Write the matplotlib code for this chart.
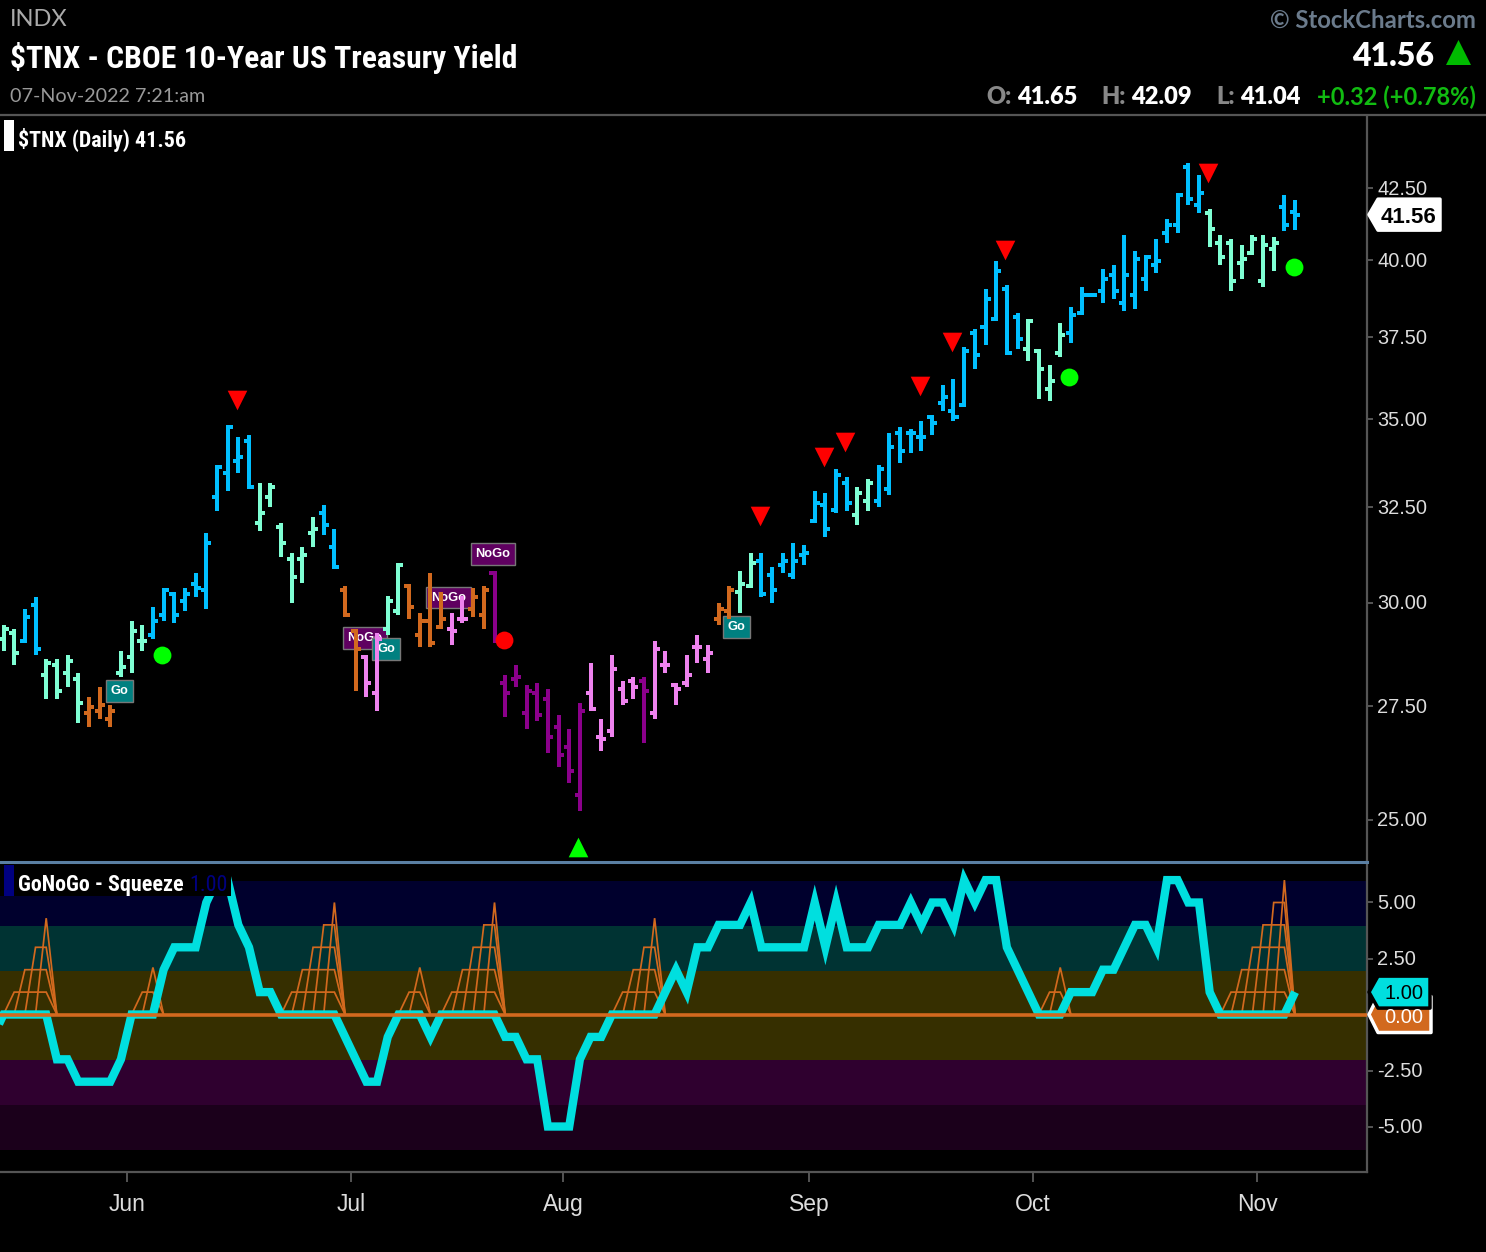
import matplotlib
matplotlib.use('Agg')
import matplotlib.pyplot as plt
import numpy as np
from matplotlib.lines import Line2D
from matplotlib.patches import Polygon, Rectangle
from matplotlib.transforms import Affine2D
from matplotlib import font_manager as fm

W, H = 1486, 1252

# Daily bars of $TNX
opens = [29.10, 29.25, 29.06, 29.94, 28.24, 28.47, 28.28, 28.14, 27.35, 27.40, 27.21, 28.28, 28.66, 29.06, 29.20,
         29.69, 30.23, 30.04, 30.48, 30.33, 32.79, 33.46, 33.79, 34.37, 32.08, 32.79, 31.97, 31.13, 31.13, 31.82,
         32.34, 31.44, 30.33, 29.30, 28.66, 27.82, 29.35, 29.79, 30.43, 29.20, 29.55, 29.40, 29.35, 29.59, 29.84,
         29.69, 30.76, 28.05, 28.14, 27.35, 27.82, 27.67, 27.03, 26.58, 25.53, 27.82, 26.81, 26.94, 27.91, 28.10,
         28.10, 27.35, 28.47, 28.00, 28.05, 28.91, 28.61, 29.59, 29.79, 30.28, 30.43, 31.07, 30.71, 30.97, 30.71,
         31.23, 32.13, 32.57, 32.44, 33.17, 32.29, 32.68, 32.68, 33.01, 34.60, 34.60, 34.49, 35.07, 35.48, 35.24,
         35.42, 37.62, 37.82, 38.07, 39.04, 38.14, 37.13, 37.07, 35.90, 37.01, 37.62, 38.27, 38.85, 38.98, 39.50,
         38.59, 38.85, 39.37, 39.84, 40.93, 41.20, 43.26, 41.90, 41.62, 40.59, 40.59, 39.91, 40.25, 39.31, 40.38,
         41.83, 41.65]
highs = [29.45, 29.35, 29.84, 30.15, 28.61, 28.61, 28.71, 28.28, 27.72, 27.96, 27.54, 28.81, 29.55, 29.45, 29.89,
         30.38, 30.28, 30.38, 30.76, 31.82, 33.68, 34.83, 34.49, 34.55, 33.17, 33.17, 32.08, 31.28, 31.44, 32.24,
         32.57, 31.92, 30.43, 29.35, 28.71, 29.25, 30.18, 31.02, 30.48, 29.74, 30.76, 30.28, 29.74, 30.18, 30.38,
         30.43, 30.81, 28.24, 28.47, 28.00, 28.05, 27.91, 27.30, 26.99, 27.58, 28.52, 27.21, 28.71, 28.10, 28.19,
         28.19, 29.06, 28.81, 28.05, 28.71, 29.20, 28.96, 29.99, 30.43, 30.81, 31.28, 31.28, 30.92, 31.28, 31.55,
         31.49, 32.96, 32.90, 33.57, 33.35, 33.06, 33.29, 33.68, 34.60, 34.78, 34.72, 34.95, 35.13, 36.03, 36.21,
         37.19, 37.75, 39.04, 39.98, 39.17, 38.27, 38.07, 37.13, 36.63, 37.94, 38.46, 39.11, 38.92, 39.71, 39.84,
         40.86, 40.31, 40.18, 40.72, 41.41, 42.33, 43.40, 42.97, 41.76, 40.86, 40.72, 40.52, 40.86, 40.86, 40.79,
         42.26, 42.09]
lows = [28.81, 28.47, 29.01, 28.71, 27.67, 27.67, 27.96, 27.12, 27.03, 27.21, 27.03, 28.19, 28.28, 28.81, 29.10,
        29.55, 29.50, 29.79, 30.15, 29.84, 32.40, 32.96, 33.46, 33.01, 31.87, 32.52, 31.18, 29.99, 30.50, 31.44,
        31.76, 30.87, 29.64, 27.86, 27.72, 27.40, 29.20, 29.69, 29.59, 28.91, 28.91, 29.35, 28.96, 29.50, 29.64,
        29.35, 29.01, 27.26, 27.96, 26.99, 27.17, 26.44, 26.14, 25.79, 25.19, 27.40, 26.49, 26.81, 27.54, 27.67,
        26.67, 27.21, 28.28, 27.54, 27.96, 28.52, 28.28, 29.45, 29.59, 29.74, 30.38, 30.15, 29.99, 30.76, 30.61,
        30.97, 32.08, 31.71, 32.34, 32.40, 32.03, 32.40, 32.52, 32.85, 33.73, 34.02, 34.08, 34.55, 35.24, 34.95,
        35.36, 36.52, 37.25, 38.00, 36.94, 37.13, 36.76, 35.60, 35.54, 36.88, 37.32, 38.20, 38.79, 38.59, 38.72,
        38.33, 38.39, 38.98, 39.57, 40.59, 40.93, 41.90, 41.62, 40.45, 39.84, 38.98, 39.37, 40.18, 39.11, 39.64,
        41.00, 41.04]
closes = [29.35, 28.76, 29.64, 28.86, 28.52, 27.86, 28.57, 27.58, 27.49, 27.54, 27.40, 28.42, 29.30, 29.06, 29.55,
          30.33, 29.69, 30.23, 30.38, 31.55, 33.62, 34.78, 33.91, 33.06, 32.34, 33.06, 31.55, 30.66, 31.23, 31.92,
          32.03, 30.92, 29.69, 28.86, 28.05, 29.10, 30.04, 30.97, 29.89, 29.55, 29.01, 29.59, 29.30, 29.59, 30.15,
          30.33, 29.06, 27.82, 28.19, 27.86, 27.30, 26.81, 26.40, 26.05, 27.40, 27.44, 26.76, 28.38, 27.63, 27.96,
          27.86, 28.86, 28.47, 27.91, 28.24, 28.91, 28.76, 29.84, 30.33, 30.48, 31.02, 30.23, 30.33, 31.07, 31.07,
          31.28, 32.63, 31.92, 33.40, 32.63, 32.90, 33.17, 33.57, 34.20, 34.08, 34.60, 34.49, 34.89, 35.66, 35.07,
          37.07, 36.94, 38.72, 39.64, 37.01, 37.44, 38.00, 36.51, 36.15, 37.57, 38.20, 38.85, 38.85, 39.37, 38.98,
          39.50, 40.04, 40.11, 39.98, 41.20, 42.26, 42.12, 42.33, 41.07, 40.11, 39.31, 40.04, 40.72, 40.52, 40.59,
          41.20, 41.56]

# GoNoGo trend of each bar: b strong go, m weak go, o weak nogo, p nogo, d strong nogo
trend = ('mmbbmmmmooommm' 'bbbbbbbbbb' 'mmmmmm' 'bb' 'oo' 'pp' 'mm' 'oooo' 'pp' 'oo' 'ddddddddd' 'ppppp' 'd'
         'pppppp' 'oo' 'mm' 'bbbbbbbbb' 'mm' 'bbbbbbbbbbbbbb' 'mmmm' 'bbbbbbbbbbbbb' 'mmmmmmm' 'bb')

# Oscillator, first value belongs to the bar just left of the chart
oscillator = [-1, 0, 0, 0, 0, 0, -2, -2, -3, -3, -3, -3, -2, 0, 0, 0, 2, 3, 3, 3, 5, 6, 6, 4, 3, 1, 1,
              0, 0, 0, 0, 0, 0, -1, -2, -3, -3, -1, 0, 0, 0, -1, 0, 0, 0, 0, 0, 0, -1, -1, -2, -2, -5, -5, -5,
              -2, -1, -1, 0, 0, 0, 0, 0, 1, 2, 1, 3, 3, 4, 4, 4, 5, 3, 3, 3, 3, 3, 5, 3, 5, 3, 3, 3, 4, 4, 4, 5,
              4, 5, 5, 4, 6, 5, 6, 6, 3, 2, 1, 0, 0, 0, 1, 1, 1, 2, 2, 3, 4, 4, 3, 6, 6, 5, 5, 1, 0, 0, 0, 0, 0,
              0, 0, 1]

squeeze = [0, 1, 2, 3, 4.3, 0, 0, 0, 0, 0, 0, 0, 0, 1, 2.1, 0, 0, 0, 0, 0, 0, 0, 0, 0, 0, 0, 0,
           1, 2, 3, 4, 5, 0, 0, 0, 0, 0, 0, 1, 2.1, 0, 0, 1, 2, 3, 4, 5, 0, 0, 0, 0, 0, 0, 0, 0, 0, 0, 0,
           1, 2, 3, 4.3, 0, 0, 0, 0, 0, 0, 0, 0, 0, 0, 0, 0, 0, 0, 0, 0, 0, 0, 0, 0, 0, 0, 0, 0, 0, 0, 0, 0,
           0, 0, 0, 0, 0, 0, 0, 0, 1, 2.1, 0, 0, 0, 0, 0, 0, 0, 0, 0, 0, 0, 0, 0, 0, 0, 1, 2, 3, 4, 5, 6, 0]

# Signals on the price panel
red_tri_bars = [22, 71, 77, 79, 86, 89, 94, 113]
red_tri_prices = [35.57, 32.27, 33.91, 34.35, 36.00, 37.35, 40.36, 43.03]
green_tri_bars = [54]
green_tri_prices = [24.43]
green_dot_bars = [15, 100, 121]
green_dot_prices = [28.71, 36.27, 39.77]
red_dot_bars = [47]
red_dot_prices = [29.08]
tag_bars = [11, 46, 41.85, 34, 36, 68.8]
tag_prices = [27.86, 31.26, 30.13, 29.12, 28.86, 29.40]
tag_texts = ['Go', 'NoGo', 'NoGo', 'NoGo', 'Go', 'Go']

price_ticks = [25, 27.5, 30, 32.5, 35, 37.5, 40, 42.5]
osc_ticks = [-5, -2.5, 2.5, 5]
month_ticks = [11.57, 32.56, 52.42, 75.46, 96.45, 117.44]
month_labels = ['Jun', 'Jul', 'Aug', 'Sep', 'Oct', 'Nov']

band_edges = [5.94, 3.96, 1.96, -2.04, -4.04, -6.04]
band_colors = ['#00002d', '#003333', '#362f00', '#2f002f', '#1b001b']

colors = {'b': '#00bfff', 'm': '#7fffd4', 'o': '#d2691e', 'p': '#ee82ee', 'd': '#8b008b'}
AXIS_GREY = '#555555'
CYAN = '#00dfdf'
ORANGE = '#d2691e'
MARK_SHIFT = 0.14


def pick_font(*names):
    # first of the names that is really there
    have = {f.name for f in fm.fontManager.ttflist}
    for n in names:
        if n in have:
            return n
    return 'DejaVu Sans'


COND = pick_font('Roboto Condensed', 'Barlow Condensed', 'Fira Sans Condensed')


def top(y):
    # figure fraction from a distance to the top edge of the picture
    return 1 - y / H


def px_poly(points, **kw):
    fig.add_artist(Polygon([(x, H - y) for x, y in points], closed=True, transform=None, **kw))


def value_tag(ax, value, label, x_right, half, face, edge, color, size, weight='normal', dy=0):
    # pointer label on the right axis, placed from the axis value
    yc = H - ax.transData.transform((0, value))[1]
    xl = 1369
    px_poly([(xl, yc), (xl + 9, yc - half), (x_right, yc - half), (x_right, yc + half), (xl + 9, yc + half)],
            fc=face, ec=edge, lw=2.5, joinstyle='round', zorder=10)
    fig.text((xl + x_right + 8) / 2 / W, top(yc + dy), label, color=color, size=size, ha='center', va='center',
             family='Liberation Sans', zorder=11, weight=weight)


fig = plt.figure(figsize=(W / 100, H / 100), dpi=100, facecolor='black')
ax = fig.add_axes([0, top(861.5), 1367 / W, (861.5 - 116) / H], facecolor='black')
ax2 = fig.add_axes([0, top(1172), 1367 / W, (1172 - 861.5) / H], facecolor='black', sharex=ax)

# price bars
bars = np.arange(len(closes))
bar_colors = [colors[t] for t in trend]
ax.vlines(bars, lows, highs, colors=bar_colors, lw=2.88, capstyle='butt', zorder=3)
ax.hlines(opens, bars - 0.47, bars, colors=bar_colors, lw=2.88, capstyle='butt', zorder=3)
ax.hlines(closes, bars, bars + 0.47, colors=bar_colors, lw=2.88, capstyle='butt', zorder=3)

ax.scatter(np.array(red_tri_bars) - MARK_SHIFT, red_tri_prices, marker='v', s=200, color='#ff0000', lw=0, zorder=4)
ax.scatter(np.array(green_tri_bars) - MARK_SHIFT, green_tri_prices, marker='^', s=200, color='#00ff00', lw=0, zorder=4)
ax.scatter(np.array(green_dot_bars) - MARK_SHIFT, green_dot_prices, marker='o', s=165, color='#00ff00', lw=0, zorder=4)
ax.scatter(np.array(red_dot_bars) - MARK_SHIFT, red_dot_prices, marker='o', s=165, color='#ff0000', lw=0, zorder=4)

for b, p, t in zip(tag_bars, tag_prices, tag_texts):
    ax.text(b - MARK_SHIFT, p, t, color='white', size=9.3, weight='bold', family='Liberation Sans', ha='center',
            va='center', zorder=2,
            bbox=dict(boxstyle='square,pad=0.38', fc='#008080' if t == 'Go' else '#5f0060', ec='#777777', lw=1))

ax.set_yscale('log')
ax.set_ylim(24.14, 45.15)
ax.set_xlim(-0.328, 127.74)
ax.set_yticks(price_ticks)
ax.set_yticklabels(['%.2f' % v for v in price_ticks])
ax.minorticks_off()

# oscillator panel
for i, c in enumerate(band_colors):
    ax2.axhspan(band_edges[i + 1], band_edges[i], color=c, lw=0, zorder=0)

# every squeeze step keeps its level until the squeeze ends
sq = np.array(squeeze)
for i, v in enumerate(sq):
    if v > 0:
        end = i
        while sq[end] > 0:
            end += 1
        xs = [i - 1] + list(range(i, end)) + [end]
        ys = [0] + [v] * (end - i) + [0]
        ax2.plot(xs, ys, color=ORANGE, lw=1.25, zorder=2, solid_joinstyle='miter')

ax2.plot(np.arange(-1, len(oscillator) - 1), oscillator, color=CYAN, lw=6, zorder=3,
         solid_joinstyle='miter', solid_capstyle='butt')
ax2.axhline(0, color=ORANGE, lw=2.6, zorder=4)
ax2.set_ylim(-7.03, 6.83)
ax2.set_yticks(osc_ticks)
ax2.set_yticklabels(['%.2f' % v for v in osc_ticks])
ax2.set_xticks(month_ticks)
ax2.set_xticklabels(month_labels)

for a in (ax, ax2):
    a.yaxis.tick_right()
    a.tick_params(axis='y', which='major', length=4.5, width=1.4, color=AXIS_GREY, labelcolor='#dddddd',
                  labelsize=14.4, pad=3)
    for s in a.spines.values():
        s.set_visible(False)
    a.spines['right'].set_visible(True)
    a.spines['right'].set_color(AXIS_GREY)
    a.spines['right'].set_linewidth(1.6)
    for lab in a.get_yticklabels():
        lab.set_family('Liberation Sans')
        # labels sit one pixel above their tick
        lab.set_transform(lab.get_transform() + Affine2D().translate(0, 1))
ax.tick_params(axis='x', which='both', length=0, labelbottom=False)
ax2.tick_params(axis='x', length=7.5, width=1.4, color=AXIS_GREY, labelcolor='#dddddd', labelsize=16.5, pad=7.5)
for lab in ax2.get_xticklabels():
    lab.set_family('Liberation Sans')
ax2.spines['bottom'].set_visible(True)
ax2.spines['bottom'].set_color(AXIS_GREY)
ax2.spines['bottom'].set_linewidth(1.6)

# separators
fig.add_artist(Line2D([0, 1], [top(115)] * 2, color=AXIS_GREY, lw=1.6))
fig.add_artist(Line2D([0, 1367 / W], [top(861.5)] * 2, color='#5a7fa3', lw=2.2))

# right axis value labels
value_tag(ax2, 0, '0.00', 1431, 18, ORANGE, 'white', 'white', 14.5, dy=2.5)
value_tag(ax2, 1, '1.00', 1430, 16, CYAN, 'black', 'black', 14.5, dy=1.5)
value_tag(ax, closes[-1], '%.2f' % closes[-1], 1440, 15.5, 'white', 'white', 'black', 16, weight='bold', dy=2.5)

# inline legends
fig.add_artist(Rectangle((4 / W, top(151)), 10 / W, 31 / H, fc='white', ec='none'))
fig.text(18 / W, top(139.5), '$TNX (Daily) 41.56', color='white', size=15.8, weight='bold', family=COND, va='center')
fig.add_artist(Rectangle((0 / W, top(896)), 231 / W, 31 / H, fc='black', ec='none', zorder=5))
fig.add_artist(Rectangle((4 / W, top(896)), 10 / W, 31 / H, fc='#000080', ec='none', zorder=6))
fig.text(18 / W, top(885.5), 'GoNoGo - Squeeze', color='white', size=15.8, weight='bold', family=COND, va='center', zorder=6)
fig.text(189 / W, top(885.5), '1.00', color='#000080', size=15.8, family=COND, va='center', zorder=6)

# header
fig.text(10 / W, top(19.5), 'INDX', color='#aaaaaa', size=17, family='Lato', va='center')
fig.text(10 / W, top(58.5), '$TNX - CBOE 10-Year US Treasury Yield', color='white', size=22.8, weight='bold',
         family=COND, va='center')
fig.text(10 / W, top(96.5), '07-Nov-2022 7:21:am', color='#999999', size=14.2, family='Lato', va='center')
fig.text(1476 / W, top(20.5), '\u00a9 StockCharts.com', color='#6b7b8c', size=17.2, weight='bold', family='Lato',
         ha='right', va='center')
fig.text(1434 / W, top(57), '41.56', color='white', size=23, weight=800, family='Lato', ha='right', va='center')
px_poly([(1446, 65), (1458.5, 40), (1471, 65)], fc='#00bb00', ec='none')

for lab, lx, val, vx in [('O:', 986, '41.65', 1077), ('H:', 1101, '42.09', 1192), ('L:', 1216, '41.04', 1301)]:
    fig.text(lx / W, top(97.5), lab, color='#888888', size=17, weight=800, family='Lato', va='center')
    fig.text(vx / W, top(97.5), val, color='white', size=17, weight=800, family='Lato', ha='right', va='center')
fig.text(1476 / W, top(97.5), '+0.32 (+0.78%)', color='#11bb11', size=17, weight='bold', family='Lato', ha='right',
         va='center')

fig.savefig('out.png', dpi=100, facecolor='black')
